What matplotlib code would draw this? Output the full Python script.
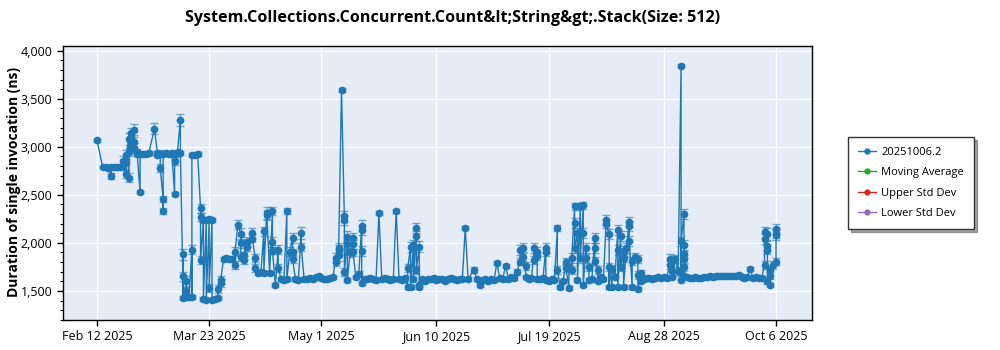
import matplotlib
matplotlib.use("Agg")
import matplotlib.pyplot as plt
import matplotlib.ticker as mticker
import pandas as pd
import numpy as np

plt.rcParams['font.family'] = ['Open Sans', 'DejaVu Sans']

title = "System.Collections.Concurrent.Count&lt;String&gt;.Stack(Size: 512)"
ylabel = "Duration of single invocation (ns)"
legend_labels = ["20251006.2", "Moving Average", "Upper Std Dev", "Lower Std Dev"]
legend_colors = ["#1f77b4", "#2ca02c", "#d62728", "#9467bd"]
xtick_dates = ["2025-02-12", "2025-03-23", "2025-05-01", "2025-06-10",
               "2025-07-19", "2025-08-28", "2025-10-06"]
xtick_labels = ["Feb 12 2025", "Mar 23 2025", "May 1 2025", "Jun 10 2025",
                "Jul 19 2025", "Aug 28 2025", "Oct 6 2025"]

# ---- data (month-day of 2025), values in ns, error in ns ----
dates = [
    # Feb
    '02-12', '02-14', '02-15', '02-16', '02-17', '02-17', '02-18', '02-19', '02-20', '02-21',
    '02-21', '02-22', '02-22', '02-22', '02-23', '02-23', '02-23', '02-24', '02-24', '02-24',
    '02-25', '02-25', '02-25', '02-26', '02-26', '02-27', '02-27', '02-28',
    # Mar A
    '03-01', '03-02', '03-04', '03-05', '03-05', '03-06', '03-06', '03-07', '03-07', '03-07',
    '03-08', '03-09', '03-10', '03-11', '03-11', '03-11', '03-12', '03-13', '03-13',
    # Mar B
    '03-14', '03-14', '03-14', '03-15', '03-15', '03-15', '03-16', '03-17', '03-17', '03-17',
    '03-18', '03-19', '03-20', '03-20', '03-20', '03-21', '03-21', '03-22', '03-22', '03-23',
    '03-23', '03-24', '03-24', '03-25', '03-26', '03-26', '03-27', '03-27', '03-28', '03-29',
    '03-30', '03-31',
    # Apr
    '04-01', '04-01', '04-02', '04-03', '04-03', '04-03', '04-04', '04-04', '04-05', '04-05',
    '04-07', '04-07', '04-08', '04-08', '04-09', '04-10', '04-11', '04-11', '04-12', '04-12',
    '04-13', '04-14', '04-14', '04-14', '04-15', '04-16', '04-16', '04-17', '04-18', '04-19',
    '04-19', '04-20', '04-21', '04-21', '04-21', '04-22', '04-23', '04-24', '04-24', '04-25',
    '04-26', '04-27', '04-28', '04-29', '04-30',
    # May
    '05-01', '05-02', '05-03', '05-04', '05-05', '05-06', '05-06', '05-07', '05-07', '05-07',
    '05-08', '05-09', '05-09', '05-09', '05-10', '05-10', '05-10', '05-11', '05-12', '05-12',
    '05-12', '05-13', '05-14', '05-15', '05-15', '05-15', '05-15', '05-16', '05-17', '05-18',
    '05-19', '05-20', '05-21', '05-22', '05-23', '05-24', '05-25', '05-26', '05-27', '05-28',
    '05-29', '05-30', '05-31', '05-31',
    # Jun
    '06-01', '06-01', '06-02', '06-02', '06-03', '06-03', '06-03', '06-04', '06-04', '06-04',
    '06-05', '06-06', '06-07', '06-08', '06-09', '06-10', '06-11', '06-12', '06-13', '06-14',
    '06-15', '06-16', '06-17', '06-18', '06-19', '06-20', '06-21', '06-23', '06-24', '06-25',
    '06-26', '06-27', '06-28', '06-29', '06-30',
    # Jul
    '07-01', '07-02', '07-03', '07-04', '07-05', '07-06', '07-07', '07-08', '07-09', '07-09',
    '07-10', '07-10', '07-11', '07-11', '07-12', '07-13', '07-14', '07-14', '07-15', '07-15',
    '07-15', '07-16', '07-17', '07-18', '07-18', '07-18', '07-19', '07-20', '07-21', '07-22',
    '07-22', '07-23', '07-24', '07-25', '07-25', '07-26', '07-26', '07-27', '07-27', '07-28',
    '07-28', '07-28', '07-29', '07-29', '07-30', '07-30', '07-31', '07-31', '07-31',
    # Aug
    '08-01', '08-01', '08-02', '08-02', '08-03', '08-04', '08-04', '08-04', '08-05', '08-05',
    '08-06', '08-07', '08-08', '08-08', '08-09', '08-09', '08-09', '08-10', '08-10', '08-11',
    '08-12', '08-12', '08-12', '08-13', '08-13', '08-14', '08-14', '08-14', '08-15', '08-16',
    '08-16', '08-16', '08-17', '08-17', '08-18', '08-19', '08-19', '08-19', '08-20', '08-20',
    '08-21', '08-22', '08-23', '08-24', '08-25', '08-26', '08-27', '08-28', '08-29', '08-30',
    '08-30', '08-31', '08-31',
    # Sep
    '09-01', '09-02', '09-03', '09-03', '09-03', '09-03', '09-04', '09-04', '09-04', '09-04',
    '09-04', '09-04', '09-05', '09-06', '09-07', '09-08', '09-09', '09-10', '09-11', '09-12',
    '09-13', '09-14', '09-15', '09-16', '09-17', '09-18', '09-19', '09-20', '09-21', '09-22',
    '09-23', '09-24', '09-25', '09-26', '09-27', '09-28', '09-29', '09-30',
    # Oct
    '10-01', '10-02', '10-02', '10-02', '10-03', '10-03', '10-03', '10-03', '10-04', '10-04',
    '10-04', '10-05', '10-06', '10-06', '10-06', '10-06',
]

values = [
    # Feb
    3070, 2790, 2790, 2785, 2700, 2790, 2790, 2790, 2795, 2850,
    2790, 2920, 2720, 2840, 3080, 2680, 2950, 3140, 3020, 3100,
    2990, 3180, 3050, 2950, 2930, 2525, 2930, 2930,
    # Mar A
    2930, 2935, 3190, 2940, 2920, 2930, 2780, 2460, 2330, 2930,
    2940, 2930, 2935, 2510, 2850, 2930, 2950, 3280, 2940,
    # Mar B
    1430, 1880, 1650, 1600, 1440, 1500, 1440, 1930, 1440, 2920,
    2920, 2930, 2360, 2270, 1820, 2240, 1420, 2240, 1410, 2245,
    1530, 2240, 1410, 1420, 1430, 1520, 1580, 1615, 1835, 1840,
    1835, 1830,
    # Apr
    1770, 1910, 2190, 2090, 1995, 1850, 1820, 1870, 2010, 1960,
    2105, 2045, 1845, 1740, 1690, 1695, 2120, 1690, 2290, 2310,
    1690, 2330, 2010, 1920, 1560, 1930, 1740, 1620, 1615, 2330,
    1620, 1910, 2050, 1900, 1830, 1620, 1615, 2105, 1960, 1625,
    1620, 1630, 1625, 1640, 1650,
    # May
    1635, 1625, 1620, 1630, 1640, 1845, 1800, 1875, 1950, 1930,
    3595, 2275, 2240, 1700, 2065, 1985, 1615, 1900, 2050, 1985,
    1900, 1640, 1680, 2180, 2135, 1915, 1580, 1625, 1620, 1630,
    1625, 1615, 2310, 1620, 1630, 1620, 1615, 1625, 2335, 1620,
    1615, 1630, 1545, 1740,
    # Jun
    1960, 1545, 1975, 1620, 2155, 2070, 1720, 1960, 1545, 1565,
    1620, 1600, 1625, 1620, 1630, 1615, 1620, 1625, 1600, 1620,
    1630, 1625, 1610, 1620, 1625, 2155, 1620, 1720, 1620, 1565,
    1610, 1625, 1600, 1620, 1615,
    # Jul
    1790, 1630, 1620, 1760, 1625, 1640, 1630, 1700, 1805, 1925,
    1950, 1850, 1760, 1640, 1620, 1630, 1945, 1825, 1910, 1860,
    1620, 1625, 1630, 1945, 1900, 1615, 1600, 1620, 1610, 2155,
    1720, 1545, 1600, 1805, 1740, 1530, 1745, 1720, 1840, 2380,
    2210, 1945, 2100, 1615, 2380, 1840, 2390, 2100, 1560,
    # Aug
    1945, 1840, 1750, 1615, 1620, 2050, 1945, 1810, 1720, 1600,
    1640, 1620, 2240, 2200, 2090, 1545, 1750, 1545, 1730, 1640,
    2135, 1925, 1545, 2070, 1745, 1915, 1845, 1545, 1945, 2220,
    2175, 2020, 1545, 1810, 1855, 1830, 1665, 1520, 1690, 1600,
    1625, 1630, 1635, 1625, 1630, 1640, 1635, 1640, 1635, 1770,
    1830, 1705, 1640,
    # Sep
    1830, 1705, 3845, 1700, 1610, 2015, 2300, 1980, 1880, 1835,
    1745, 1650, 1640, 1630, 1635, 1640, 1635, 1630, 1640, 1645,
    1650, 1645, 1655, 1650, 1660, 1655, 1650, 1655, 1660, 1650,
    1665, 1640, 1635, 1640, 1730, 1635, 1640, 1630,
    # Oct
    1635, 1770, 2110, 2040, 1970, 2090, 1930, 1600, 1560, 1660,
    1715, 1770, 1805, 2085, 2140, 2100,
]

errors = [
    # Feb
    15, 15, 15, 15, 30, 15, 15, 15, 15, 50,
    20, 50, 40, 30, 60, 50, 40, 60, 50, 50,
    50, 60, 50, 30, 20, 20, 20, 20,
    # Mar A
    20, 20, 60, 20, 20, 40, 40, 30, 30, 20,
    20, 20, 20, 20, 40, 20, 20, 60, 20,
    # Mar B
    20, 60, 50, 50, 20, 40, 20, 50, 20, 20,
    20, 20, 50, 40, 40, 20, 20, 20, 20, 20,
    40, 20, 20, 20, 20, 40, 40, 40, 20, 20,
    20, 20,
    # Apr
    40, 50, 50, 60, 50, 40, 40, 40, 50, 40,
    50, 40, 40, 40, 20, 20, 50, 20, 50, 60,
    20, 40, 50, 40, 20, 50, 40, 20, 20, 30,
    20, 50, 50, 40, 40, 20, 20, 60, 40, 20,
    20, 20, 20, 20, 20,
    # May
    20, 20, 20, 20, 20, 50, 40, 60, 50, 50,
    20, 60, 50, 40, 60, 50, 20, 50, 50, 50,
    40, 20, 30, 60, 50, 50, 20, 20, 20, 20,
    20, 20, 20, 20, 20, 20, 20, 20, 20, 20,
    20, 20, 20, 40,
    # Jun
    50, 20, 50, 20, 50, 50, 40, 60, 20, 20,
    20, 20, 20, 20, 20, 20, 20, 20, 20, 20,
    20, 20, 20, 20, 20, 20, 20, 30, 20, 20,
    20, 20, 20, 20, 20,
    # Jul
    20, 20, 20, 20, 20, 20, 20, 30, 40, 50,
    50, 40, 40, 20, 20, 20, 50, 40, 50, 40,
    20, 20, 20, 50, 40, 20, 20, 20, 20, 30,
    40, 20, 20, 40, 40, 20, 40, 40, 50, 40,
    50, 50, 50, 20, 40, 50, 40, 50, 20,
    # Aug
    50, 40, 40, 20, 20, 50, 50, 40, 40, 20,
    20, 20, 50, 50, 50, 20, 40, 20, 40, 20,
    50, 50, 20, 50, 40, 50, 40, 20, 50, 50,
    50, 50, 20, 40, 40, 40, 40, 20, 30, 20,
    20, 20, 20, 20, 20, 20, 20, 20, 20, 40,
    50, 40, 20,
    # Sep
    40, 40, 15, 40, 20, 50, 50, 50, 40, 40,
    40, 20, 20, 20, 20, 20, 20, 20, 20, 20,
    20, 20, 20, 20, 20, 20, 20, 20, 20, 20,
    20, 20, 20, 20, 20, 20, 20, 20,
    # Oct
    20, 40, 60, 50, 50, 60, 50, 30, 20, 40,
    40, 40, 40, 60, 60, 50,
]

n = min(len(dates), len(values), len(errors))
x = pd.to_datetime(["2025-" + d for d in dates[:n]])
y = np.array(values[:n], dtype=float)
e = np.array(errors[:n], dtype=float)

fig = plt.figure(figsize=(10, 3.5), dpi=100)
ax = fig.add_axes([0.063, 0.086, 0.749, 0.783])
ax.set_facecolor("#e5ecf6")

blue = "#1f77b4"
ax.errorbar(x, y, yerr=e, fmt="none", ecolor=blue, elinewidth=1.0,
            capsize=3, capthick=1.0, alpha=0.6, zorder=2)
ax.plot(x, y, color=blue, lw=1.0, marker="o", ms=4.5, mec=blue, mfc=blue, zorder=3)

ax.set_xlim(pd.Timestamp("2025-01-31 05:00"), pd.Timestamp("2025-10-18 12:00"))
ax.set_ylim(1198, 4052)

ax.set_xticks(pd.to_datetime(xtick_dates))
ax.set_xticklabels(xtick_labels)
ax.yaxis.set_major_locator(mticker.MultipleLocator(500))
ax.yaxis.set_minor_locator(mticker.MultipleLocator(100))
ax.yaxis.set_major_formatter(mticker.FuncFormatter(lambda v, p: f"{int(v):,}"))
ax.tick_params(axis="both", labelsize=9, length=4, width=1, color="black")
ax.tick_params(axis="y", which="minor", length=2, width=0.8)

ax.grid(True, which="major", color="white", lw=1.0)
ax.set_axisbelow(True)
for s in ax.spines.values():
    s.set_color("black")
    s.set_linewidth(1.0)

fig.text(0.014, 0.479, ylabel, rotation=90, ha="center", va="center",
         fontsize=10, fontweight="bold")
fig.text(0.453, 0.948, title, ha="center", va="center",
         fontsize=11.6, fontweight="bold")

handles = [ax.plot([], [], color=c, lw=1.0, marker="o", ms=3.5)[0] for c in legend_colors]
leg = fig.legend(handles, legend_labels, loc="upper left",
                 bbox_to_anchor=(0.848, 0.609), borderaxespad=0.0, fontsize=8,
                 frameon=True, fancybox=False, shadow=True, edgecolor="#333333",
                 handlelength=1.6, handletextpad=0.5, borderpad=0.9, labelspacing=0.85)
leg.get_frame().set_linewidth(1.0)

fig.savefig("out.png", dpi=100)
